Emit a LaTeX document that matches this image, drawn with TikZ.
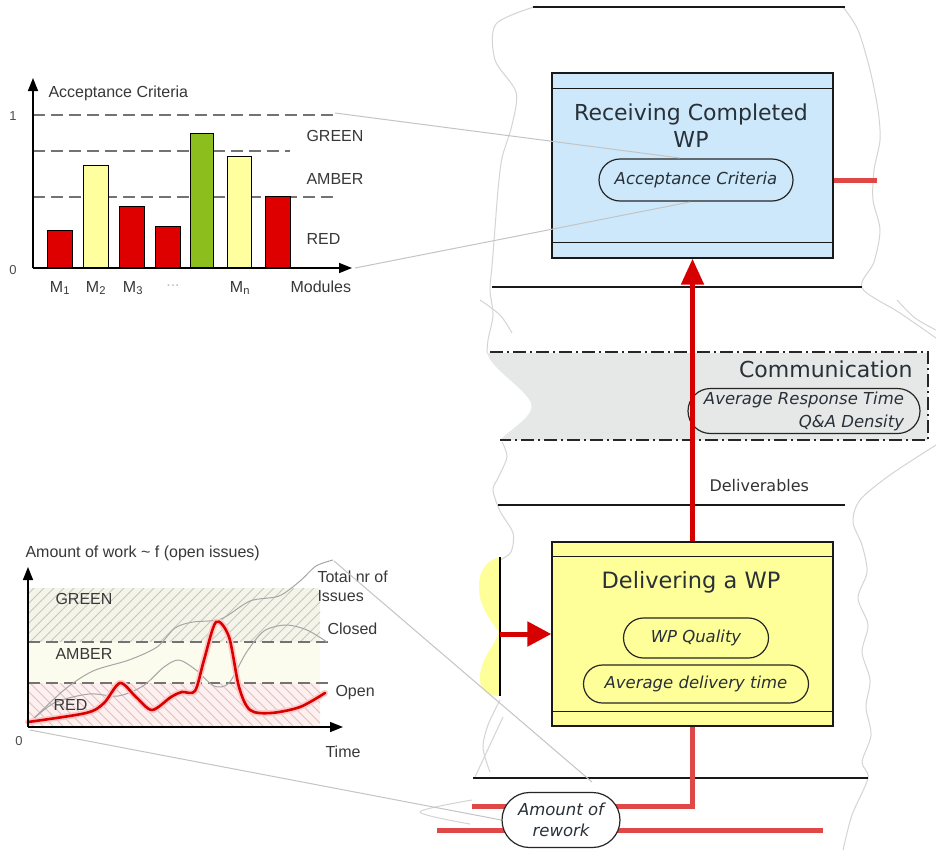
\documentclass[tikz,border=0pt]{standalone}
\usepackage{fontspec}
\setmainfont{Liberation Sans}
\newfontfamily\vfont{DejaVu Sans}
\usetikzlibrary{arrows.meta,shapes.misc}

\definecolor{barred}{RGB}{222,0,0}
\definecolor{baryel}{RGB}{255,255,160}
\definecolor{bargrn}{RGB}{140,190,30}
\definecolor{recvblue}{RGB}{204,232,250}
\definecolor{delyel}{RGB}{255,255,153}
\definecolor{commgray}{RGB}{230,232,232}
\definecolor{arrred}{RGB}{214,0,0}
\definecolor{lred}{RGB}{224,72,72}
\definecolor{outl}{RGB}{212,212,212}
\definecolor{zoomln}{RGB}{196,196,196}
\definecolor{zoneG}{RGB}{244,244,234}
\definecolor{hatchG}{RGB}{200,200,180}
\definecolor{zoneA}{RGB}{251,251,238}
\definecolor{zoneR}{RGB}{252,240,240}
\definecolor{hatchR}{RGB}{238,186,186}
\definecolor{txtdark}{RGB}{40,48,56}

\begin{document}
\begin{tikzpicture}[x=1pt,y=-1pt,
  chartfont/.style={font=\fontsize{16}{19}\selectfont, text=black!78},
  smallfont/.style={font=\fontsize{13}{15}\selectfont, text=black!70},
  bar/.style={draw=black, line width=1.2pt, inner sep=0pt, minimum width=25pt, anchor=south west},
  axisarrow/.style={line width=1.5pt, -{Triangle[length=13pt,width=10pt]}},
  thr/.style={draw=black!55, line width=1.1pt, dash pattern=on 12pt off 6pt},
  boxA/.style={draw=black!90, line width=1.3pt, minimum width=281pt, inner sep=0pt},
  ovalA/.style={rounded rectangle, draw=black!85, line width=1.2pt, inner sep=0pt,
     font=\vfont\itshape\fontsize{16.5}{23}\selectfont, text=txtdark},
  titlefont/.style={font=\vfont\fontsize{22}{27}\selectfont, text=txtdark},
  laneline/.style={draw=black!90, line width=1.2pt},
  outline/.style={draw=outl, line width=1pt},
  zoomline/.style={draw=zoomln, line width=1pt},
  bigred/.style={draw=arrred, line width=5pt},
  softred/.style={draw=lred, line width=5pt},
  commline/.style={line width=1.4pt, draw=black!85, dash pattern=on 13pt off 4pt on 2pt off 4pt}
]
\useasboundingbox (0,0) rectangle (936,854);
\fill[white] (0,0) rectangle (936,854);

% ---------------- lane outlines (torn paper) ----------------
\draw[outline] plot[smooth] coordinates {(537,6) (496,24) (495,60) (516,92) (512,125) (502,158) (498,190) (495,228) (492,266) (490,290) (493,315) (488,340) (487,353)};
\draw[outline] plot[smooth] coordinates {(502,442) (507,457) (498,478) (493,490) (500,511) (513,533) (511,552) (500,560)};
\draw[outline] plot[smooth] coordinates {(500,700) (488,725) (483,748) (490,772)};
\draw[outline] plot[smooth] coordinates {(843,7) (858,30) (870,70) (878,110) (880,140) (874,170) (873,200) (880,230) (874,262) (862,288) (900,313) (936,338)};
\draw[outline] plot[smooth] coordinates {(936,445) (890,475) (860,500) (853,522) (862,545) (867,572) (858,598) (868,625) (862,652) (870,680) (866,707) (871,735) (862,762) (868,778) (852,815) (843,850)};
\draw[outline] plot[smooth] coordinates {(480,300) (500,315) (512,333)};
\draw[outline] plot[smooth] coordinates {(897,300) (915,318) (936,330)};
\draw[outline] (503,717) -- (475,777);
\draw[outline] plot[smooth] coordinates {(472,800) (420,812) (470,824)};

% ---------------- top chart ----------------
\node[chartfont, anchor=west] (tTitle) at (45,93) {Acceptance Criteria};
\coordinate (tO) at (33,268);
\coordinate (tYend) at (33,78);
\coordinate (tXend) at (352,268);
\draw[thr] (33,115) -- (333,115);
\draw[thr] (33,151) -- (290,151);
\draw[thr] (33,197) -- (333,197);
\node[bar, fill=barred, minimum height=37pt] (b1) at (47,268) {};
\node[bar, fill=baryel, minimum height=102pt] (b2) at (83,268) {};
\node[bar, fill=barred, minimum height=61pt] (b3) at (119,268) {};
\node[bar, fill=barred, minimum height=41pt] (b4) at (155,268) {};
\node[bar, fill=bargrn, minimum height=134pt, minimum width=23pt] (b5) at (190,268) {};
\node[bar, fill=baryel, minimum height=111pt, minimum width=24pt] (b6) at (227,268) {};
\node[bar, fill=barred, minimum height=71pt] (b7) at (265,268) {};
\draw[axisarrow] (tO) -- (tYend);
\draw[axisarrow] (tO) -- (tXend);
\node[smallfont] (t1) at (13,116) {1};
\node[smallfont] (t0) at (13,270) {0};
\node[chartfont, anchor=west] (gG) at (303,136) {GREEN};
\node[chartfont, anchor=west] (gA) at (303,179) {AMBER};
\node[chartfont, anchor=west] (gR) at (303,239) {RED};
\node[chartfont] (m1) at (60,288) {M\textsubscript{1}};
\node[chartfont] (m2) at (96,288) {M\textsubscript{2}};
\node[chartfont] (m3) at (133,288) {M\textsubscript{3}};
\node[chartfont, text=black!25] (mdots) at (173,286) {...};
\node[chartfont] (mn) at (240,288) {M\textsubscript{n}};
\node[chartfont, anchor=west] (mods) at (287,287) {Modules};

% ---------------- bottom chart ----------------
\node[chartfont, anchor=west] (bTitle) at (22,553) {Amount of work \textasciitilde{} f (open issues)};
\begin{scope}
  \clip (28,588) rectangle (320,642);
  \fill[zoneG] (28,588) rectangle (320,642);
  \foreach \i in {-60,-50,...,330} \draw[hatchG, line width=0.9pt] (\i,642) -- (\i+54,588);
\end{scope}
\fill[zoneA] (28,642) rectangle (320,683);
\begin{scope}
  \clip (28,683) rectangle (320,727);
  \fill[zoneR] (28,683) rectangle (320,727);
  \foreach \i in {-60,-50,...,330} \draw[hatchR, line width=0.9pt] (\i,683) -- (\i+44,727);
\end{scope}
\draw[thr] (28,642) -- (333,642);
\draw[thr] (28,683) -- (333,683);
\coordinate (bO) at (28,727);
\coordinate (bYend) at (28,567);
\coordinate (bXend) at (343,727);
% total
\draw[black!35, line width=1pt] plot[smooth] coordinates {(28,724) (64,690) (93,671) (129,660) (157,647) (175,628) (193,622) (221,619) (250,601) (279,596) (300,581) (316,566) (333,560)};
% closed
\draw[black!35, line width=1pt] plot[smooth] coordinates {(28,724) (54,703) (89,694) (118,696) (143,686) (164,667) (179,660) (196,670) (214,686) (229,683) (246,653) (264,631) (286,625) (307,630) (327,642)};
% open
\draw[red!22, line width=6pt, line cap=round] plot[smooth] coordinates {(28,722) (86,713) (104,703) (120,683) (136,697) (152,710) (171,697) (182,692) (195,691) (204,660) (216,622) (229,637) (239,687) (250,710) (271,713) (300,707) (325,693)};
\draw[red!85!black, line width=2.6pt, line cap=round] plot[smooth] coordinates {(28,722) (86,713) (104,703) (120,683) (136,697) (152,710) (171,697) (182,692) (195,691) (204,660) (216,622) (229,637) (239,687) (250,710) (271,713) (300,707) (325,693)};
\draw[axisarrow] (bO) -- (bYend);
\draw[axisarrow] (bO) -- (bXend);
\node[chartfont, anchor=west] (zG) at (52,599) {GREEN};
\node[chartfont, anchor=west] (zA) at (52,654) {AMBER};
\node[chartfont, anchor=west] (zR) at (50,705) {RED};
\node[smallfont] (b0) at (19,741) {0};
\node[chartfont, anchor=west] (lTot) at (314,577) {Total nr of};
\node[chartfont, anchor=west] (lIss) at (314,596) {Issues};
\node[chartfont, anchor=west] (lClo) at (324,629) {Closed};
\node[chartfont, anchor=west] (lOpe) at (332,693) {Open};
\node[chartfont, anchor=west] (lTim) at (322,752) {Time};

% ---------------- lane lines ----------------
\coordinate (l1a) at (533,7);   \coordinate (l1b) at (845,7);
\coordinate (l2a) at (492,287); \coordinate (l2b) at (862,287);
\coordinate (l3a) at (498,505); \coordinate (l3b) at (845,505);
\coordinate (l4a) at (473,778); \coordinate (l4b) at (868,778);
\draw[laneline] (l1a) -- (l1b);
\draw[laneline] (l2a) -- (l2b);
\draw[laneline] (l3a) -- (l3b);
\draw[laneline] (l4a) -- (l4b);

% ---------------- communication band ----------------
\fill[commgray] (487,353) -- (928,353) -- (928,440) -- (500,440)
  .. controls (512,428) and (536,415) .. (531,403)
  .. controls (525,388) and (492,370) .. (487,353) -- cycle;
\draw[commline] (490,352) -- (928,352) -- (928,440) -- (500,440);
\node[titlefont, anchor=east] (commT) at (916,369) {Communication};
\node[ovalA, align=right, fill=commgray, minimum width=232pt, minimum height=45pt] (resp) at (804,411) {Average Response Time\\Q\&A Density};

\node[font=\vfont\fontsize{16}{19}\selectfont, text=black!80, anchor=west] (delivT) at (706,486) {Deliverables};

% ---------------- receiving box ----------------
\node[boxA, fill=recvblue, minimum height=185pt] (recv) at (692.5,165.5) {};
\draw[line width=1.3pt, black!90] ([yshift=-16pt]recv.north west) -- ([yshift=-16pt]recv.north east);
\draw[line width=1.3pt, black!90] ([yshift=16pt]recv.south west) -- ([yshift=16pt]recv.south east);
\node[titlefont, align=center] (recvT) at (691,126) {Receiving Completed\\WP};
\node[ovalA, fill=recvblue, minimum width=194pt, minimum height=42pt] (acc) at (696,180) {Acceptance Criteria};
\coordinate (stubEnd) at (877,180);
\draw[softred] (recv.east |- acc) -- (stubEnd);

% ---------------- delivering box ----------------
\node[boxA, fill=delyel, minimum height=184pt] (deliv) at (692.5,634) {};
\draw[line width=1.3pt, black!90] ([yshift=-15pt]deliv.north west) -- ([yshift=-15pt]deliv.north east);
\draw[line width=1.3pt, black!90] ([yshift=15pt]deliv.south west) -- ([yshift=15pt]deliv.south east);
\node[titlefont, font=\vfont\fontsize{22.5}{27}\selectfont] (delivTitle) at (691,582) {Delivering a WP};
\node[ovalA, fill=delyel, minimum width=145pt, minimum height=40pt] (wpq) at (696,638) {WP Quality};
\node[ovalA, fill=delyel, minimum width=225pt, minimum height=38pt] (avgd) at (696,684) {Average delivery time};

% main up arrow
\draw[bigred, -{Triangle[length=26pt,width=22pt]}] (deliv.north) -- (recv.south);

% left input
\fill[delyel] (500,557) .. controls (487,560) and (478,570) .. (479,590)
  .. controls (480,610) and (495,625) .. (499,633)
  .. controls (495,645) and (479,660) .. (480,680)
  .. controls (481,692) and (490,696) .. (500,696) -- cycle;
\coordinate (barTop) at (500,557);
\coordinate (barBot) at (500,696);
\coordinate (barMid) at (500,634);
\draw[line width=1.5pt] (barTop) -- (barBot);
\draw[bigred, -{Triangle[length=24pt,width=24pt]}] (barMid) -- (deliv.west);

% rework
\coordinate (turn) at (692.5,806);
\coordinate (upL) at (472,806);
\coordinate (lowL) at (437,830);
\coordinate (lowR) at (823,830);
\draw[softred] (deliv.south) -- (turn) -- (600,806);
\draw[softred] (upL) -- (520,806);
\draw[softred] (lowL) -- (lowR);
\node[ovalA, fill=white, align=center, minimum width=118pt, minimum height=55pt, font=\vfont\itshape\fontsize{16.5}{21}\selectfont] (rework) at (561,820) {Amount of\\rework};

% ---------------- zoom lines ----------------
\coordinate (z1a) at (335,113); \coordinate (z1b) at (680,158);
\coordinate (z2a) at (355,268); \coordinate (z2b) at (690,202);
\draw[zoomline] (z1a) -- (z1b);
\draw[zoomline] (z2a) -- (z2b);
\coordinate (z3a) at (30,730);
\coordinate (z4a) at (334,561); \coordinate (z4b) at (592,782);
\draw[zoomline] (z3a) -- (rework.west);
\draw[zoomline] (z4a) -- (z4b);
\end{tikzpicture}
\end{document}
